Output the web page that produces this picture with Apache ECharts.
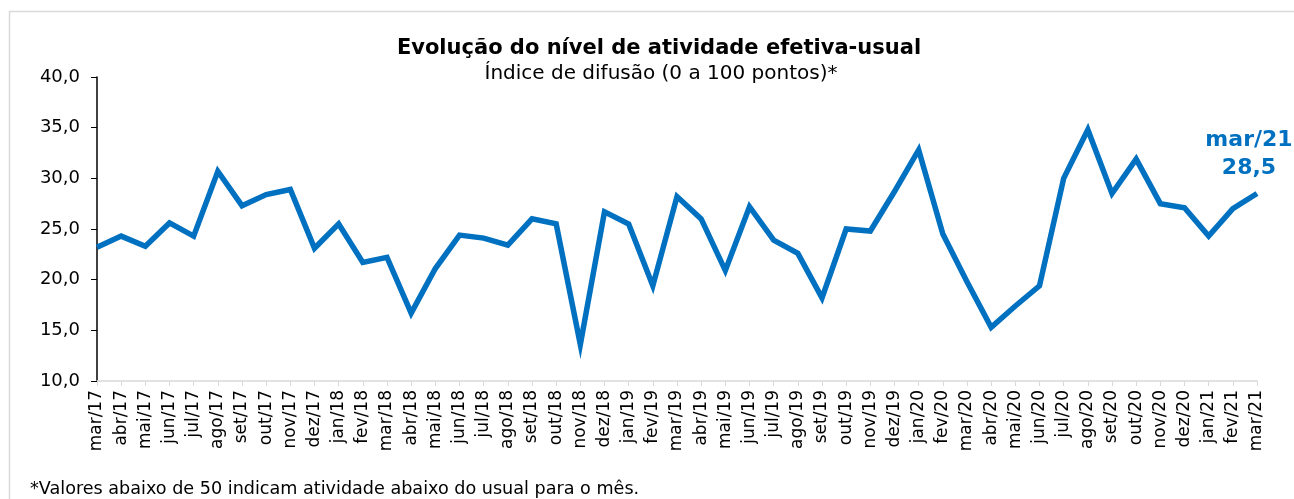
<!DOCTYPE html>
<html lang="pt">
<head>
    <meta charset="UTF-8">
    <title>Evolução do nível de atividade efetiva-usual</title>
    <script src="https://cdn.jsdelivr.net/npm/echarts@6/dist/echarts.min.js"></script>
    <style>
        html, body { margin: 0; padding: 0; background: #fff; }
        #main { width: 1294px; height: 499px; }
    </style>
</head>
<body>
    <div id="main"></div>
    <script>
        // meses (mar/17 a mar/21)
        var months = ['mar/17', 'abr/17', 'mai/17', 'jun/17', 'jul/17', 'ago/17', 'set/17', 'out/17', 'nov/17', 'dez/17',
            'jan/18', 'fev/18', 'mar/18', 'abr/18', 'mai/18', 'jun/18', 'jul/18', 'ago/18', 'set/18', 'out/18', 'nov/18', 'dez/18',
            'jan/19', 'fev/19', 'mar/19', 'abr/19', 'mai/19', 'jun/19', 'jul/19', 'ago/19', 'set/19', 'out/19', 'nov/19', 'dez/19',
            'jan/20', 'fev/20', 'mar/20', 'abr/20', 'mai/20', 'jun/20', 'jul/20', 'ago/20', 'set/20', 'out/20', 'nov/20', 'dez/20',
            'jan/21', 'fev/21', 'mar/21'];

        // índice de difusão
        var values = [23.2, 24.3, 23.3, 25.6, 24.3, 30.7, 27.3, 28.4, 28.9, 23.1,
            25.5, 21.7, 22.2, 16.7, 21.1, 24.4, 24.1, 23.4, 26.0, 25.5, 13.6, 26.7,
            25.5, 19.4, 28.2, 26.0, 20.9, 27.2, 23.9, 22.6, 18.2, 25.0, 24.8, 28.7,
            32.8, 24.5, 19.8, 15.3, 17.4, 19.4, 30.0, 34.8, 28.5, 31.9, 27.5, 27.1,
            24.3, 27.0, 28.5];

        var yTicks = { min: 10, max: 40, interval: 5 };

        var blue = '#0070C0';
        var font = '"DejaVu Sans", sans-serif';

        var chart = echarts.init(document.getElementById('main'));

        function fmt(v) { return v.toFixed(1).replace('.', ','); }

        // rótulo só no último ponto
        var last = values.length - 1;
        var lineData = values.map(function (v, i) {
            if (i !== last) return v;
            return {
                value: v,
                label: {
                    show: true,
                    position: 'top',
                    offset: [-8, -6.5],
                    formatter: months[i] + '\n' + fmt(v),
                    color: blue,
                    fontFamily: font,
                    fontWeight: 'bold',
                    fontSize: 22,
                    lineHeight: 28,
                    align: 'center'
                }
            };
        });

        var option = {
            backgroundColor: '#fff',
            animation: false,
            title: [{
                text: 'Evolução do nível de atividade efetiva-usual',
                left: 654, top: 33, textAlign: 'center',
                textStyle: { fontFamily: font, fontWeight: 'bold', fontSize: 21, color: '#000' }
            }, {
                text: 'Índice de difusão (0 a 100 pontos)*',
                left: 656, top: 59, textAlign: 'center',
                textStyle: { fontFamily: font, fontWeight: 'normal', fontSize: 20, color: '#000' }
            }, {
                text: '*Valores abaixo de 50 indicam atividade abaixo do usual para o mês.',
                left: 25, top: 475,
                textStyle: { fontFamily: font, fontWeight: 'normal', fontSize: 17.6, color: '#000' }
            }],
            graphic: [{
                type: 'polyline',
                shape: { points: [[9.5, 520], [9.5, 11.5], [1300, 11.5]] },
                style: { stroke: '#d9d9d9', lineWidth: 1.5, fill: null },
                silent: true
            }],
            grid: { left: 97, right: 37, top: 77, bottom: 118 },
            xAxis: {
                type: 'category',
                data: months,
                boundaryGap: false,
                axisLine: { lineStyle: { color: '#d9d9d9', width: 1.5 } },
                axisTick: { show: true, alignWithLabel: true, length: 5, lineStyle: { color: '#d9d9d9' } },
                axisLabel: {
                    interval: 0, rotate: 90, margin: 9,
                    fontFamily: font, fontSize: 17, color: '#000'
                }
            },
            yAxis: {
                type: 'value',
                min: yTicks.min, max: yTicks.max, interval: yTicks.interval,
                splitLine: { show: false },
                axisLine: { show: true, lineStyle: { color: '#000', width: 1.5 } },
                axisTick: { show: true, length: 6, lineStyle: { color: '#000' } },
                axisLabel: {
                    margin: 17,
                    fontFamily: font, fontSize: 18, color: '#000',
                    formatter: fmt
                }
            },
            series: [{
                type: 'line',
                data: lineData,
                symbol: 'circle',
                symbolSize: 0,
                lineStyle: { color: blue, width: 5.5, join: 'miter', cap: 'butt' },
                itemStyle: { color: blue }
            }]
        };

        chart.setOption(option);
    </script>
</body>
</html>
